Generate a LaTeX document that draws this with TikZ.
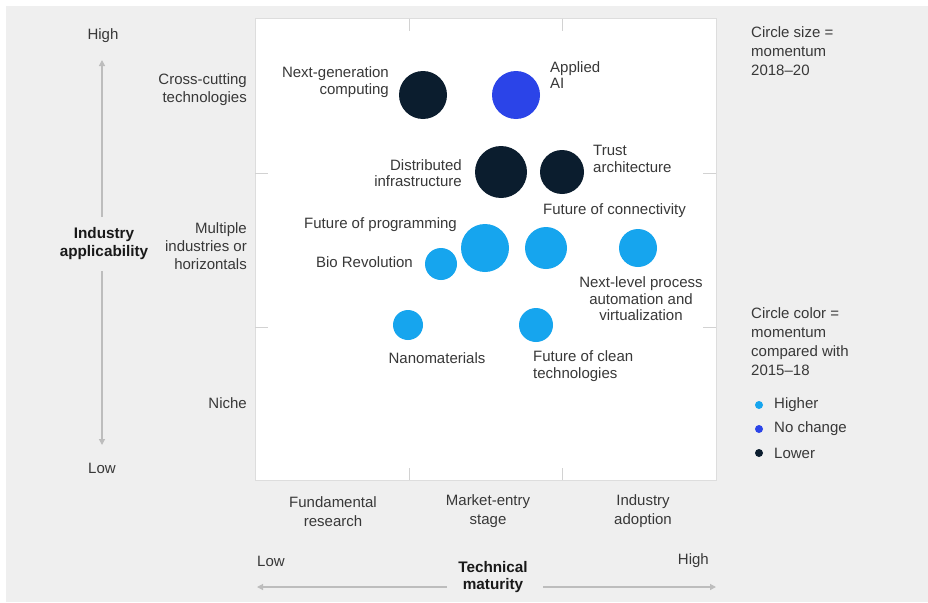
\documentclass[tikz,border=0pt]{standalone}
\usepackage{fontspec}
\setmainfont{Liberation Sans}
\usetikzlibrary{arrows.meta}
\definecolor{bggray}{HTML}{EFEFEF}
\definecolor{boxline}{HTML}{DDDDDD}
\definecolor{tickgray}{HTML}{D2D2D2}
\definecolor{axisgray}{HTML}{BDBDBD}
\definecolor{txt}{HTML}{383838}
\definecolor{dark}{HTML}{0B1D2E}
\definecolor{midblue}{HTML}{2B44E8}
\definecolor{lightblue}{HTML}{16A5EE}
\tikzset{
  lbl/.style={inner sep=0pt, text=txt, font=\fontsize{15}{16.5}\selectfont},
  axlbl/.style={inner sep=0pt, text=txt, font=\fontsize{15}{18}\selectfont},
  boldlbl/.style={inner sep=0pt, text=black!90, font=\fontsize{15.3}{17.5}\selectfont\bfseries},
  leg/.style={inner sep=0pt, text=txt, font=\fontsize{15}{19}\selectfont, align=left, anchor=west},
  bub/.style={circle, inner sep=0pt, draw=none},
  tickline/.style={draw=tickgray, line width=1pt},
  axisline/.style={draw=axisgray, line width=1.2pt},
  tipend/.style={-{Triangle[length=6pt,width=6pt]}}
}
\begin{document}
\begin{tikzpicture}[x=1pt,y=-1pt]
\useasboundingbox (0,0) rectangle (928,602);
\fill[white] (0,0) rectangle (928,602);
\fill[bggray] (6,6) rectangle (928,602);
% plot box
\draw[boxline, fill=white, line width=1pt] (255,19) rectangle (716,480);
% ticks
\draw[tickline] (409,19) -- (409,31);
\draw[tickline] (562,19) -- (562,31);
\draw[tickline] (409,468) -- (409,480);
\draw[tickline] (562,468) -- (562,480);
\draw[tickline] (255,173) -- (268,173);
\draw[tickline] (255,327) -- (268,327);
\draw[tickline] (703,173) -- (716,173);
\draw[tickline] (703,327) -- (716,327);

% bubbles
\node[bub, fill=dark, minimum size=48pt] (ngc) at (423,95) {};
\node[bub, fill=midblue, minimum size=48pt] (ai) at (516,95) {};
\node[bub, fill=dark, minimum size=52pt] (dist) at (501,172) {};
\node[bub, fill=dark, minimum size=44pt] (trust) at (562,172) {};
\node[bub, fill=lightblue, minimum size=48pt] (prog) at (485,248) {};
\node[bub, fill=lightblue, minimum size=42pt] (conn) at (546,248) {};
\node[bub, fill=lightblue, minimum size=38pt] (proc) at (638,248) {};
\node[bub, fill=lightblue, minimum size=32pt] (bio) at (441,264) {};
\node[bub, fill=lightblue, minimum size=30pt] (nano) at (408,325) {};
\node[bub, fill=lightblue, minimum size=34pt] (clean) at (536,325) {};

% bubble labels
\node[lbl, align=right, anchor=east] (ngcl) at (389,82) {Next-generation\\computing};
\node[lbl, align=left, anchor=west] (ail) at (550,75) {Applied\\AI};
\node[lbl, align=right, anchor=east] (distl) at (462,173) {Distributed\\infrastructure};
\node[lbl, align=left, anchor=west] (trustl) at (593,159) {Trust\\architecture};
\node[lbl, anchor=west] (connl) at (543,211) {Future of connectivity};
\node[lbl, anchor=east] (progl) at (457,225) {Future of programming};
\node[lbl, anchor=east] (biol) at (413,262) {Bio Revolution};
\node[lbl, align=center] (procl) at (641,299) {Next-level process\\automation and\\virtualization};
\node[lbl] (nanol) at (437,358) {Nanomaterials};
\node[lbl, align=left, anchor=west] (cleanl) at (533,366) {Future of clean\\technologies};

% vertical axis
\node[axlbl] (vhigh) at (103,36) {High};
\node[axlbl] (vlow) at (102,468) {Low};
\node[boldlbl, align=center] (vtitle) at (104,243.5) {Industry\\applicability};
\coordinate (vtop) at (102,60);
\coordinate (vbot) at (102,445);
\coordinate (vup) at (102,217);
\coordinate (vdn) at (102,271);
\draw[axisline, tipend] (vup) -- (vtop);
\draw[axisline, tipend] (vdn) -- (vbot);
\node[axlbl, align=right, anchor=east] (cross) at (247,90) {Cross-cutting\\technologies};
\node[axlbl, align=right, anchor=east] (mult) at (247,246) {Multiple\\industries or\\horizontals};
\node[axlbl, anchor=east] (niche) at (247,403) {Niche};

% horizontal axis
\node[axlbl, font=\fontsize{15}{19}\selectfont, align=center] (fund) at (333,511.5) {Fundamental\\research};
\node[axlbl, font=\fontsize{15}{19}\selectfont, align=center] (mkt) at (488,511.5) {Market-entry\\stage};
\node[axlbl, font=\fontsize{15}{19}\selectfont, align=center] (ind) at (643,511.5) {Industry\\adoption};
\node[axlbl, anchor=west] (hlow) at (257,561) {Low};
\node[axlbl, anchor=east] (hhigh) at (709,561) {High};
\node[boldlbl, align=center] (htitle) at (493,577) {Technical\\maturity};
\coordinate (hl) at (257,587);
\coordinate (hr) at (716,587);
\coordinate (hlm) at (447,587);
\coordinate (hrm) at (543,587);
\draw[axisline, tipend] (hlm) -- (hl);
\draw[axisline, tipend] (hrm) -- (hr);

% legend
\node[leg] (size) at (751,51) {Circle size =\\momentum\\2018{\textendash}20};
\node[leg] (color) at (751,341.5) {Circle color =\\momentum\\compared with\\2015{\textendash}18};
\node[bub, fill=lightblue, minimum size=8pt] (b1) at (759,405) {};
\node[bub, fill=midblue, minimum size=8pt] (b2) at (759,429) {};
\node[bub, fill=dark, minimum size=8pt] (b3) at (759,453) {};
\node[leg] (t1) at (774,405) {Higher};
\node[leg] (t2) at (774,429) {No change};
\node[leg] (t3) at (774,453) {Lower};
\end{tikzpicture}
\end{document}
